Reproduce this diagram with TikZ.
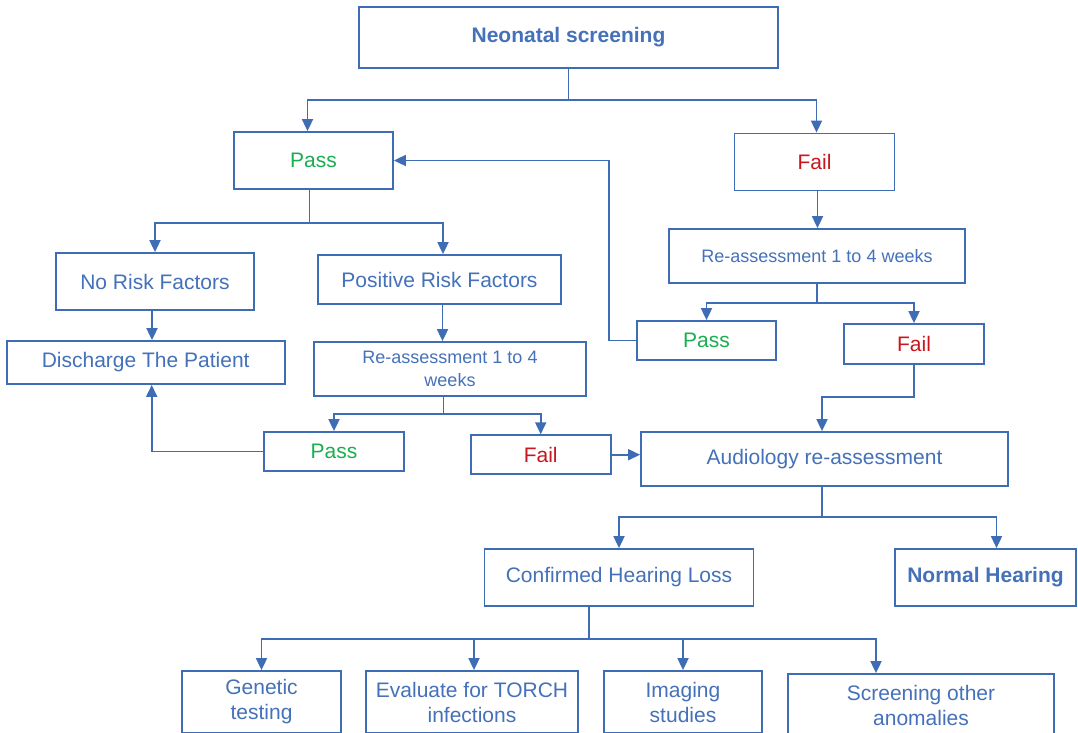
\documentclass[tikz,border=0pt]{standalone}
\usepackage{fontspec}
\setmainfont{Liberation Sans}
\usetikzlibrary{arrows.meta,positioning,calc}
\definecolor{line}{HTML}{3E6DB6}
\definecolor{ink}{HTML}{4471BA}
\definecolor{okgreen}{HTML}{1AAE50}
\definecolor{alertred}{HTML}{C8161E}
\tikzset{
  box/.style={draw=line,line width=1.8pt,fill=white,inner sep=2pt,align=center,text=ink,font=\fontsize{21}{25}\selectfont},
  smalltext/.style={font=\fontsize{18}{23}\selectfont},
  flow/.style={-{Triangle[length=12pt,width=11pt]},line width=1.8pt,draw=line}
}

\begin{document}
\begin{tikzpicture}[x=1pt,y=-1pt]
    \useasboundingbox (0,0) rectangle (1078,732);
    \clip (0,0) rectangle (1078,732);

    % top of the tree
    \node[box,minimum width=419,minimum height=61] (screen) at (568.5,37.5) {\textbf{Neonatal screening}};
    \node[box,minimum width=159,minimum height=57,text=okgreen] (pass1) at (313.5,160.5) {Pass};
    \node[box,minimum width=160,minimum height=57,text=alertred] (fail1) at (814.5,162) {Fail};

    % left branch
    \node[box,minimum width=198,minimum height=57] (nrisk) at (155,281.5) {No Risk Factors};
    \node[box,minimum width=243,minimum height=49] (prisk) at (439.5,279.5) {Positive Risk Factors};
    \node[box,minimum width=278,minimum height=43] (disch) at (145.7,362.5) {Discharge The Patient};
    \node[box,smalltext,minimum width=272,minimum height=54] (releft) at (450,369) {Re-assessment 1 to 4\\weeks};
    \node[box,minimum width=140,minimum height=39,text=okgreen] (passl) at (334,451.5) {Pass};
    \node[box,minimum width=140,minimum height=39,text=alertred] (faill) at (540.7,454.7) {Fail};

    % right branch
    \node[box,smalltext,minimum width=296,minimum height=54] (reright) at (817,256) {Re-assessment 1 to 4 weeks};
    \node[box,minimum width=139,minimum height=39,text=okgreen] (passr) at (706.5,340.5) {Pass};
    \node[box,minimum width=140,minimum height=40,text=alertred] (failr) at (914,344) {Fail};
    \node[box,minimum width=367,minimum height=54] (audio) at (824.5,459) {Audiology re-assessment};
    \node[box,minimum width=269,minimum height=57] (conf) at (619,577.5) {Confirmed Hearing Loss};
    \node[box,minimum width=181,minimum height=57] (normal) at (985.5,577.5) {\textbf{Normal Hearing}};

    % work-up
    \node[box,minimum width=159,minimum height=62] (gene) at (261.5,702) {Genetic\\testing};
    \node[box,minimum width=212,minimum height=62] (torch) at (472,702) {Evaluate for TORCH\\infections};
    \node[box,minimum width=158,minimum height=62] (imag) at (683,702) {Imaging\\studies};
    \node[box,minimum width=266,minimum height=62] (scr) at (921,705) {Screening other\\anomalies};

    \draw[flow] (screen.south) -- ++(0,31) -| ($(pass1.north)+(-6,0)$);
    \draw[flow] (screen.south) -- ++(0,31) -| ($(fail1.north)+(2,0)$);

    \draw[flow] ($(pass1.south)+(-4,0)$) -- ++(0,33) -| (nrisk.north);
    \draw[flow] ($(pass1.south)+(-4,0)$) -- ++(0,33) -| ($(prisk.north)+(3.5,0)$);
    \draw[flow] ($(nrisk.south)+(-3,0)$) -- ($(disch.north)+(6.3,0)$);
    \draw[flow] ($(prisk.south)+(3,0)$) -- ($(releft.north)+(-7.5,0)$);
    \draw[flow] ($(releft.south)+(-6.5,0)$) -- ++(0,17) -| (passl.north);
    \draw[flow] ($(releft.south)+(-6.5,0)$) -- ++(0,17) -| (faill.north);
    \draw[flow] (passl.west) -| ($(disch.south)+(6,0)$);
    \draw[flow] (faill.east) -- (faill.east -| audio.west);

    \draw[flow] ($(fail1.south)+(3,0)$) -- ($(reright.north)+(0.5,0)$);
    \draw[flow] (reright.south) -- ++(0,19) -| (passr.north);
    \draw[flow] (reright.south) -- ++(0,19) -| (failr.north);
    \draw[flow] (passr.west) -- ++(-27,0) |- (pass1.east);
    \draw[flow] (failr.south) -- ++(0,32) -| ($(audio.north)+(-2.5,0)$);

    \draw[flow] ($(audio.south)+(-2.5,0)$) -- ++(0,30) -| (conf.north);
    \draw[flow] ($(audio.south)+(-2.5,0)$) -- ++(0,30) -| ($(normal.north)+(11,0)$);

    \draw[flow] ($(conf.south)+(-30,0)$) -- ++(0,32) -| (gene.north);
    \draw[flow] ($(conf.south)+(-30,0)$) -- ++(0,32) -| ($(torch.north)+(2,0)$);
    \draw[flow] ($(conf.south)+(-30,0)$) -- ++(0,32) -| (imag.north);
    \draw[flow] ($(conf.south)+(-30,0)$) -- ++(0,32) -| ($(scr.north)+(-45,0)$);
\end{tikzpicture}
\end{document}
